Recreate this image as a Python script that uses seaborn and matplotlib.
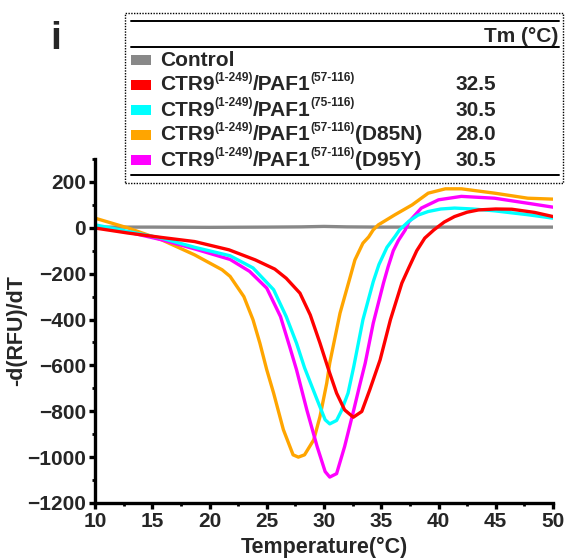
import matplotlib
matplotlib.use("Agg")
import matplotlib.pyplot as plt
import seaborn as sns
import numpy as np
import pandas as pd
from matplotlib.lines import Line2D
from matplotlib.patches import Rectangle
from matplotlib.ticker import MultipleLocator

# ---------------- data ----------------
t_control = [10, 15, 20, 25, 28, 30, 32, 35, 40, 45, 50]
v_control = [3, 3, 2, 3, 4, 6, 4, 3, 3, 3, 3]

t_red = [10, 12.9, 15.8, 18.7, 21.7, 24.0, 25.7, 26.7, 27.9, 28.8, 29.65, 30.4, 31.1, 31.8,
         32.56, 33.3, 34.0, 34.9, 35.8, 36.8, 37.4, 38.1, 38.8, 39.6, 40.5, 41.4, 42.5, 43.5,
         45.0, 46.4, 48.4, 50]
v_red = [-1, -23, -42, -60, -96, -140, -180, -220, -285, -380, -503, -619, -721, -794,
         -826, -801, -706, -576, -401, -241, -175, -100, -45, -9, 25, 49, 68, 78,
         82, 81, 67, 49]

t_cyan = [10, 12.9, 15.8, 18.7, 21.8, 23.8, 25.6, 26.7, 27.6, 28.3, 29.4, 30.1, 30.5, 31.1,
          31.5, 32.1, 32.6, 33.4, 34.3, 34.8, 35.5, 36.2, 36.6, 37.4, 38.2, 39.1, 40.2, 41.4,
          43.0, 44.9, 47.8, 50]
v_cyan = [13, -16, -45, -85, -122, -175, -270, -387, -503, -610, -750, -837, -855, -840,
          -800, -721, -605, -401, -235, -160, -85, -38, -9, 28, 55, 71, 82, 86,
          82, 74, 57, 42]

t_mag = [10, 12.9, 15.8, 18.7, 21.8, 23.5, 25.0, 26.2, 27.0, 27.6, 28.5, 29.4, 30.1, 30.5,
         31.1, 31.8, 32.6, 33.1, 33.6, 34.3, 35.2, 35.6, 36.05, 36.5, 37.1, 37.4, 38.5, 40.0,
         42.0, 44.9, 47.8, 50]
v_mag = [6, -19, -52, -92, -138, -190, -263, -387, -518, -619, -794, -954, -1063, -1087,
         -1072, -954, -794, -690, -590, -416, -240, -170, -100, -55, -9, 25, 86, 122,
         137, 129, 107, 90]

t_orange = [10, 12.9, 15.8, 18.7, 21.1, 21.8, 23.0, 23.8, 24.4, 25.0, 25.6, 26.45, 27.3, 27.76,
            28.3, 29.1, 29.65, 30.24, 30.5, 31.4, 32.3, 32.7, 33.4, 33.9, 34.3, 34.75, 36.2,
            37.7, 39.1, 40.6, 42.0, 44.9, 47.8, 50]
v_orange = [42, -1, -52, -118, -183, -212, -300, -401, -503, -619, -721, -880, -990, -1000,
            -990, -925, -823, -677, -590, -372, -212, -140, -67, -40, -9, 13, 57,
            100, 151, 170, 170, 151, 129, 125]

series_colors = ["#888888", "#FF0000", "#00FFFF", "#FFA500", "#FF00FF"]
tm_values = ["", "32.5", "30.5", "28.0", "30.5"]

x_ticks = [10, 15, 20, 25, 30, 35, 40, 45, 50]
y_ticks = [200, 0, -200, -400, -600, -800, -1000, -1200]

# ---------------- style ----------------
sns.set_theme(style="ticks")
plt.rcParams['font.family'] = ['Liberation Sans', 'DejaVu Sans']
plt.rcParams['font.weight'] = 'bold'

W, H = 573, 560
fig = plt.figure(figsize=(W / 100, H / 100), dpi=100)
ax = fig.add_axes([95 / W, 1 - 503 / H, (553 - 95) / W, (503 - 159) / H])


def fp(x, y):
    return (x / W, 1 - y / H)


data = [
    (t_control, v_control, series_colors[0]),
    (t_orange, v_orange, series_colors[3]),
    (t_mag, v_mag, series_colors[4]),
    (t_cyan, v_cyan, series_colors[2]),
    (t_red, v_red, series_colors[1]),
]
for t, v, c in data:
    df = pd.DataFrame({"T": t, "V": v})
    sns.lineplot(data=df, x="T", y="V", color=c, lw=2.4, ax=ax, sort=False,
                 estimator=None, solid_joinstyle="round")

ax.set_xlim(10, 50)
ax.set_ylim(-1200, 300)
ax.set_xticks(x_ticks)
ax.set_yticks(y_ticks)
ax.xaxis.set_minor_locator(MultipleLocator(2.5))
ax.yaxis.set_minor_locator(MultipleLocator(100))
for s in ["top", "right"]:
    ax.spines[s].set_visible(False)
for s in ["left", "bottom"]:
    ax.spines[s].set_linewidth(2.4)
    ax.spines[s].set_color("black")
ax.tick_params(axis="both", which="major", length=4.5, width=2.4, labelsize=15,
               direction="out", color="black", pad=2)
ax.tick_params(axis="both", which="minor", length=2.5, width=2.0, direction="out", color="black")
for lab in ax.get_xticklabels() + ax.get_yticklabels():
    lab.set_fontweight("bold")
ax.set_xlabel("Temperature(°C)", fontsize=15.5, fontweight="bold", labelpad=4)
ax.set_ylabel("-d(RFU)/dT", fontsize=15.5, fontweight="bold", labelpad=0)
ax.grid(False)

# panel label
fig.text(*fp(56, 39), "i", fontsize=28, fontweight="bold", ha="center", va="center")

# ---------------- custom legend table ----------------
box = Rectangle(fp(125, 183), (563 - 125) / W, (183 - 13) / H, transform=fig.transFigure,
                fill=False, ls=(0, (1, 1)), lw=1.0, ec="black")
fig.add_artist(box)
for yy in (21, 47, 175):
    fig.add_artist(Line2D([131 / W, 559 / W], [1 - yy / H] * 2, transform=fig.transFigure,
                          color="black", lw=1.4))
fig.text(*fp(558, 36), "Tm (°C)", fontsize=15, fontweight="bold", ha="right", va="center")

renderer = fig.canvas.get_renderer()


def rich(x, y, parts, size=15):
    """parts: list of (text, is_sup). x,y in pixels (y=center)."""
    cx = x
    for txt, sup in parts:
        fs = size * 0.57 if sup else size
        yy = y - 7 if sup else y
        t = fig.text(*fp(cx, yy), txt, fontsize=fs, fontweight="bold", ha="left", va="center")
        bb = t.get_window_extent(renderer=renderer)
        cx += bb.width


row_y = [60, 85, 110, 135, 160]
labels_parts = [
    [("Control", False)],
    [("CTR9", False), ("(1-249)", True), ("/PAF1", False), ("(57-116)", True)],
    [("CTR9", False), ("(1-249)", True), ("/PAF1", False), ("(75-116)", True)],
    [("CTR9", False), ("(1-249)", True), ("/PAF1", False), ("(57-116)", True), ("(D85N)", False)],
    [("CTR9", False), ("(1-249)", True), ("/PAF1", False), ("(57-116)", True), ("(D95Y)", False)],
]
for i, y in enumerate(row_y):
    fig.add_artist(Rectangle(fp(131, y + 5), 20 / W, 10 / H, transform=fig.transFigure,
                             color=series_colors[i], lw=0))
    rich(160, y, labels_parts[i])
    if tm_values[i]:
        fig.text(*fp(496, y), tm_values[i], fontsize=15, fontweight="bold",
                 ha="right", va="center")

fig.savefig("out.png", dpi=100)
